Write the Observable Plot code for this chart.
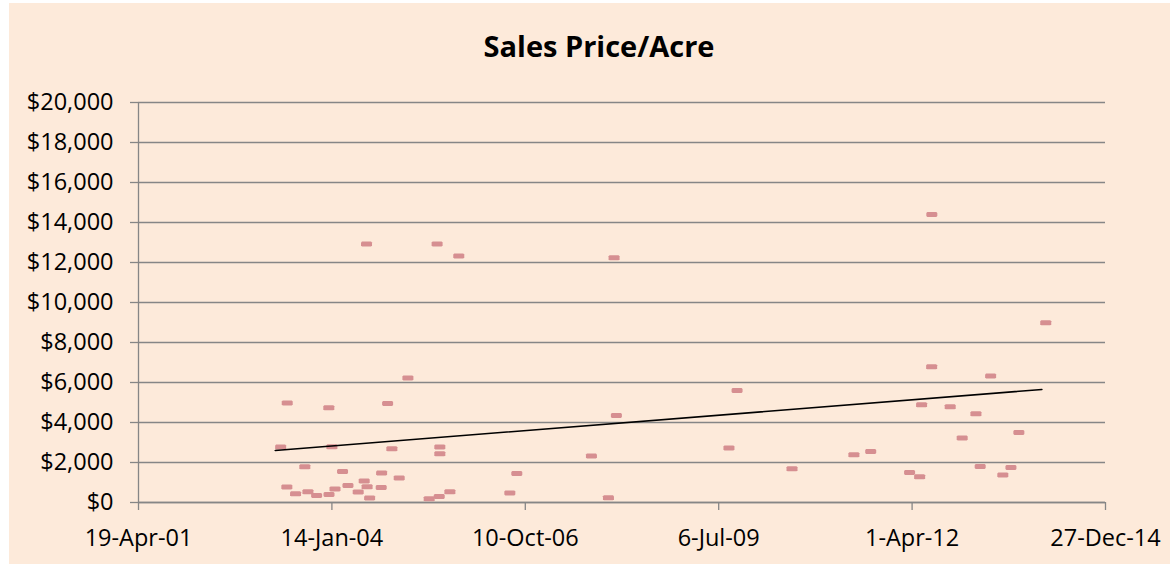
<!DOCTYPE html>
<html>
<head>
<meta charset="utf-8">
<script src="https://cdn.jsdelivr.net/npm/d3@7"></script>
<script src="https://cdn.jsdelivr.net/npm/@observablehq/plot@0.6"></script>
<style>
  html, body { margin: 0; padding: 0; background: #ffffff; }
  #page { position: relative; width: 1170px; height: 564px; overflow: hidden; }
  #frame { position: absolute; left: 9px; top: 3px; width: 1161px; height: 561px; background: #FDEADA; }
  #title { position: absolute; left: 0; top: 31px; width: 1198px; text-align: center;
           font-family: "Open Sans", sans-serif; font-weight: bold; font-size: 29px; line-height: 29px; color: #000; }
  #chart { position: absolute; left: 0; top: 70px; }
</style>
</head>
<body>
<div id="page">
  <div id="frame"></div>
  <div id="title">Sales Price/Acre</div>
  <div id="chart"></div>
</div>
<script>
// Sale dates as Excel date serials (days since 1899-12-30)
const saleSerials = [37735, 37769, 37767, 37812, 37860, 37876, 37921, 37984, 37985, 38000,
  38016, 38055, 38083, 38136, 38167, 38179, 38182, 38195, 38255, 38257,
  38288, 38310, 38348, 38393, 38503, 38544, 38555, 38558, 38558, 38610,
  38656, 38920, 38956, 39342, 39430, 39459, 39471, 40053, 40095, 40379,
  40699, 40786, 40987, 41039, 41049, 41101, 41102, 41197, 41259, 41330,
  41352, 41406, 41469, 41511, 41552, 41691];
// Sales price per acre ($)
const pricePerAcre = [2770, 4970, 770, 435, 1785, 535, 350, 4735, 400, 2785,
  670, 1550, 850, 520, 1070, 12920, 785, 220, 750, 1470,
  4950, 2685, 1220, 6220, 185, 12920, 300, 2770, 2435, 535,
  12330, 470, 1450, 2320, 235, 12235, 4350, 2720, 5600, 1685,
  2385, 2550, 1500, 1285, 4885, 6785, 14400, 4785, 3220, 4435,
  1800, 6320, 1370, 1750, 3500, 8985];
// Linear trendline end points
const trendSerials = [37707, 41671];
const trendValues = [2600, 5650];
// Axis ticks
const xTickSerials = [37000, 38000, 39000, 40000, 41000, 42000];
const yTicks = [0, 2000, 4000, 6000, 8000, 10000, 12000, 14000, 16000, 18000, 20000];

const toDate = s => new Date(Date.UTC(1899, 11, 30) + s * 864e5);
const data = saleSerials.map((s, i) => ({date: toDate(s), price: pricePerAcre[i]}));
const trend = trendSerials.map((s, i) => ({date: toDate(s), price: trendValues[i]}));
const xTicks = xTickSerials.map(toDate);

const dash = {
  draw(ctx, size) {
    const w = 11, h = 5, r = 1;
    ctx.moveTo(-w / 2 + r, -h / 2);
    ctx.lineTo(w / 2 - r, -h / 2);
    ctx.lineTo(w / 2, -h / 2 + r);
    ctx.lineTo(w / 2, h / 2 - r);
    ctx.lineTo(w / 2 - r, h / 2);
    ctx.lineTo(-w / 2 + r, h / 2);
    ctx.lineTo(-w / 2, h / 2 - r);
    ctx.lineTo(-w / 2, -h / 2 + r);
    ctx.closePath();
  }
};

const gray = "#868686";
const chart = Plot.plot({
  width: 1170,
  height: 494,
  marginLeft: 138,
  marginRight: 65,
  marginTop: 32,
  marginBottom: 62,
  style: {background: "transparent", fontFamily: "'Open Sans', sans-serif", fontSize: "23.5px", color: "#000", overflow: "visible"},
  x: {type: "utc", domain: [xTicks[0], xTicks[xTicks.length - 1]]},
  y: {domain: [0, 20000]},
  marks: [
    Plot.gridY(yTicks, {stroke: gray, strokeOpacity: 1, strokeWidth: 1.3}),
    Plot.ruleY([0], {stroke: gray, strokeWidth: 1.3}),
    Plot.ruleX([xTicks[0]], {stroke: gray, strokeWidth: 1.3}),
    Plot.axisX(xTicks, {tickFormat: d3.utcFormat("%-d-%b-%y"), tickSize: 8, tickPadding: 19,
      stroke: gray, strokeWidth: 1.3, fill: "#000", label: null}),
    Plot.axisY(yTicks, {tickFormat: d3.format("$,.0f"), tickSize: 8, tickPadding: 17,
      stroke: gray, strokeWidth: 1.3, fill: "#000", label: null}),
    Plot.dot(data, {x: "date", y: "price", symbol: dash, r: 4, fill: "#D68F91", stroke: "none"}),
    Plot.line(trend, {x: "date", y: "price", stroke: "#000", strokeWidth: 1.6})
  ]
});
document.getElementById("chart").appendChild(chart);
</script>
</body>
</html>
